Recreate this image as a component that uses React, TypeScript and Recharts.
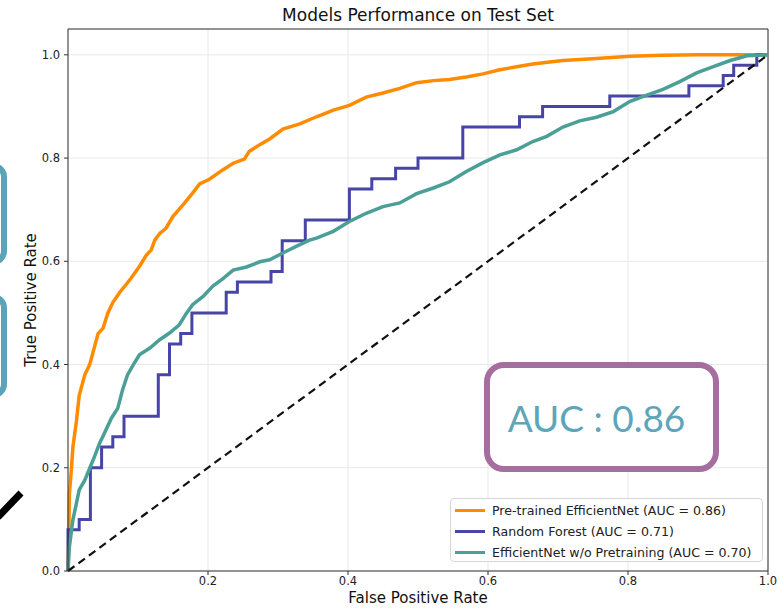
import React from "react";
import { LineChart, Line, XAxis, YAxis, CartesianGrid, ReferenceLine } from "recharts";

// ROC points (false positive rate / true positive rate)
const pretrainedFpr = [
  0, 0.001, 0.002, 0.005, 0.007, 0.012, 0.016, 0.024, 0.031, 0.035, 0.043, 0.05, 0.057, 0.064,
  0.074, 0.083, 0.09, 0.102, 0.112, 0.119, 0.124, 0.131, 0.14, 0.15, 0.164, 0.178, 0.188, 0.202,
  0.221, 0.236, 0.252, 0.259, 0.274, 0.288, 0.307, 0.331, 0.355, 0.379, 0.402, 0.426, 0.45, 0.474,
  0.498, 0.522, 0.545, 0.569, 0.593, 0.617, 0.641, 0.664, 0.688, 0.707, 0.755, 0.803, 0.85, 0.9, 1.0,
];
const pretrainedTpr = [
  0, 0.06, 0.15, 0.2, 0.24, 0.29, 0.34, 0.38, 0.4, 0.42, 0.46, 0.47, 0.5, 0.52,
  0.54, 0.555, 0.567, 0.59, 0.612, 0.622, 0.641, 0.654, 0.664, 0.687, 0.709, 0.732, 0.75, 0.759,
  0.777, 0.79, 0.798, 0.813, 0.826, 0.837, 0.856, 0.866, 0.88, 0.893, 0.902, 0.918, 0.926, 0.935,
  0.946, 0.95, 0.952, 0.957, 0.963, 0.971, 0.977, 0.982, 0.986, 0.989, 0.993, 0.997, 0.999, 1.0, 1.0,
];

// Random forest: end of each horizontal run and its level (drawn as stepBefore)
const forestFpr = [
  0, 0.016, 0.032, 0.048, 0.064, 0.08, 0.129, 0.145, 0.161, 0.177, 0.226, 0.242, 0.29, 0.306,
  0.339, 0.402, 0.434, 0.468, 0.5, 0.564, 0.645, 0.678, 0.774, 0.887, 0.936, 0.951, 0.984, 1.0,
];
const forestTpr = [
  0, 0.08, 0.1, 0.2, 0.24, 0.26, 0.3, 0.38, 0.44, 0.46, 0.5, 0.54, 0.56, 0.58,
  0.64, 0.68, 0.74, 0.76, 0.78, 0.8, 0.86, 0.88, 0.9, 0.92, 0.94, 0.96, 0.98, 1.0,
];

const scratchFpr = [
  0, 0.002, 0.007, 0.012, 0.016, 0.024, 0.031, 0.038, 0.045, 0.052, 0.062, 0.071, 0.078, 0.085,
  0.093, 0.102, 0.117, 0.131, 0.145, 0.159, 0.169, 0.178, 0.193, 0.207, 0.221, 0.236, 0.255, 0.274,
  0.288, 0.307, 0.326, 0.345, 0.355, 0.379, 0.402, 0.426, 0.45, 0.474, 0.498, 0.522, 0.545, 0.569,
  0.593, 0.617, 0.641, 0.664, 0.684, 0.707, 0.731, 0.755, 0.779, 0.803, 0.827, 0.85, 0.874, 0.898,
  0.922, 0.946, 0.97, 1.0,
];
const scratchTpr = [
  0, 0.047, 0.099, 0.131, 0.157, 0.176, 0.199, 0.222, 0.247, 0.267, 0.296, 0.315, 0.351, 0.38,
  0.399, 0.419, 0.432, 0.448, 0.461, 0.477, 0.499, 0.516, 0.532, 0.552, 0.566, 0.583, 0.589, 0.599,
  0.603, 0.616, 0.629, 0.641, 0.645, 0.658, 0.677, 0.693, 0.706, 0.713, 0.731, 0.742, 0.754, 0.774,
  0.791, 0.806, 0.816, 0.832, 0.842, 0.86, 0.872, 0.879, 0.89, 0.91, 0.922, 0.933, 0.948, 0.965,
  0.977, 0.989, 0.998, 1.0,
];

const chanceFpr = [0, 1];
const chanceTpr = [0, 1];

const xTicks = [0.2, 0.4, 0.6, 0.8, 1.0];
const yTicks = [0, 0.2, 0.4, 0.6, 0.8, 1.0];

const series = [
  { name: "Pre-trained EfficientNet (AUC = 0.86)", color: "#ff8c00" },
  { name: "Random Forest (AUC = 0.71)", color: "#4845a6" },
  { name: "EfficientNet w/o Pretraining (AUC = 0.70)", color: "#4a9f96" },
];

const zip = (xs: number[], ys: number[]) => xs.map((x, i) => ({ x, y: ys[i] }));

const FONT = "'DejaVu Sans', sans-serif";
const tickStyle = { fontSize: 11.5, fill: "#222", fontFamily: FONT };

export default function App() {
  return (
    <div style={{ position: "absolute", left: 0, top: 0, width: 784, height: 610, overflow: "hidden", background: "#fff" }}>
      <LineChart width={784} height={610} margin={{ top: 29, right: 16, left: 38, bottom: 9 }}>
        <CartesianGrid stroke="#e8e8e8" strokeWidth={1} />
        <XAxis
          type="number"
          dataKey="x"
          domain={[0, 1]}
          ticks={xTicks}
          tickFormatter={(v: number) => v.toFixed(1)}
          height={30}
          tick={tickStyle}
          tickSize={4}
          tickMargin={2}
          axisLine={{ stroke: "#333" }}
          tickLine={{ stroke: "#333" }}
        />
        <YAxis
          type="number"
          dataKey="y"
          domain={[0, 1.05]}
          ticks={yTicks}
          tickFormatter={(v: number) => v.toFixed(1)}
          width={30}
          tick={tickStyle}
          tickSize={4}
          tickMargin={4}
          axisLine={{ stroke: "#333" }}
          tickLine={{ stroke: "#333" }}
        />
        <ReferenceLine y={1.05} stroke="#333" />
        <ReferenceLine x={1} stroke="#333" />
        <Line
          data={zip(pretrainedFpr, pretrainedTpr)}
          dataKey="y"
          type="linear"
          stroke={series[0].color}
          strokeWidth={3.5}
          dot={false}
          isAnimationActive={false}
        />
        <Line
          data={zip(forestFpr, forestTpr)}
          dataKey="y"
          type="stepBefore"
          stroke={series[1].color}
          strokeWidth={3}
          dot={false}
          isAnimationActive={false}
        />
        <Line
          data={zip(scratchFpr, scratchTpr)}
          dataKey="y"
          type="linear"
          stroke={series[2].color}
          strokeWidth={3.5}
          dot={false}
          isAnimationActive={false}
        />
        <Line
          data={zip(chanceFpr, chanceTpr)}
          dataKey="y"
          type="linear"
          stroke="#111"
          strokeWidth={2.2}
          strokeDasharray="8 5"
          dot={false}
          isAnimationActive={false}
        />
      </LineChart>

      {/* title and axis labels */}
      <div style={{ position: "absolute", left: 68, width: 700, top: 5, textAlign: "center", fontFamily: FONT, fontSize: 17, color: "#111" }}>
        Models Performance on Test Set
      </div>
      <div style={{ position: "absolute", left: 68, width: 700, top: 589, textAlign: "center", fontFamily: FONT, fontSize: 15, color: "#111" }}>
        False Positive Rate
      </div>
      <div
        style={{
          position: "absolute", left: 31, top: 300, width: 200, marginLeft: -100, marginTop: -9,
          textAlign: "center", fontFamily: FONT, fontSize: 15, color: "#111", transform: "rotate(-90deg)",
        }}
      >
        True Positive Rate
      </div>

      {/* legend */}
      <div
        style={{
          position: "absolute", left: 450, top: 498, width: 313, height: 64, background: "rgba(255,255,255,0.85)",
          border: "1px solid #d6d6d6", borderRadius: 4, boxSizing: "border-box", fontFamily: FONT, fontSize: 12.6, color: "#222",
        }}
      >
        {series.map((s, i) => (
          <div key={s.name} style={{ position: "absolute", left: 4, top: 1.5 + i * 21, height: 20, display: "flex", alignItems: "center" }}>
            <div style={{ width: 30, height: 3, background: s.color, marginRight: 7 }} />
            <span style={{ whiteSpace: "nowrap" }}>{s.name}</span>
          </div>
        ))}
      </div>

      {/* slide overlays */}
      <div style={{ position: "absolute", left: -200, top: 163, width: 207, height: 102, border: "6px solid #5ba3b8", borderRadius: 14, boxSizing: "border-box" }} />
      <div style={{ position: "absolute", left: -200, top: 294, width: 207, height: 104, border: "6px solid #5ba3b8", borderRadius: 14, boxSizing: "border-box" }} />
      <svg style={{ position: "absolute", left: 0, top: 0 }} width={40} height={560}>
        <line x1={-2} y1={517} x2={21} y2={493} stroke="#000" strokeWidth={7} />
      </svg>
      <div
        style={{
          position: "absolute", left: 484, top: 362, width: 235, height: 110, border: "6px solid #a66e9f", borderRadius: 20,
          boxSizing: "border-box", background: "#fff", display: "flex", alignItems: "center", justifyContent: "center",
          fontFamily: "Lato, 'Open Sans', sans-serif", fontSize: 37, color: "#5ea5b9", paddingRight: 10,
        }}
      >
        AUC : 0.86
      </div>
    </div>
  );
}
